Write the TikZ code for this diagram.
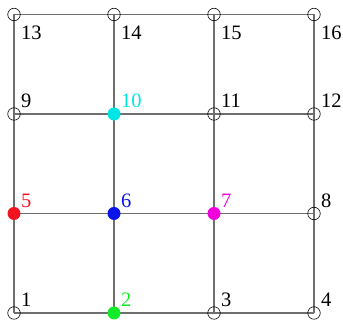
\documentclass[tikz,border=0pt]{standalone}
\usepackage{fontspec}
\setmainfont{Liberation Serif}
\definecolor{gridgray}{RGB}{110,110,110}
\definecolor{mygreen}{RGB}{20,235,40}
\definecolor{mycyan}{RGB}{0,230,230}
\definecolor{myred}{RGB}{240,20,30}
\definecolor{myblue}{RGB}{10,20,230}
\definecolor{mymag}{RGB}{240,0,220}
\tikzset{
  vtx/.style={circle,draw=black,line width=0.6pt,minimum size=12.5pt,inner sep=0pt},
  fvtx/.style={circle,fill=#1,draw=none,minimum size=13pt,inner sep=0pt},
  lbl/.style={anchor=base west,inner sep=0pt,font=\fontsize{20.5}{20.5}\selectfont},
  gline/.style={draw=gridgray,line width=1.2pt}
}
\begin{document}
\begin{tikzpicture}[x=1pt,y=1pt]
\useasboundingbox (0,0) rectangle (343,320);
% coordinates
\foreach \r in {0,1,2,3}{
  \foreach \c in {0,1,2,3}{
    \pgfmathtruncatemacro{\k}{4*\r+\c+1}
    \coordinate (p\k) at ({14+100*\c},{7+99.5*\r});
  }
}
% grid lines
\foreach \r in {0,1,2,3}{
  \pgfmathtruncatemacro{\a}{4*\r+1}
  \pgfmathtruncatemacro{\b}{4*\r+4}
  \draw[gline] (p\a) -- (p\b);
}
\foreach \c in {1,2,3,4}{
  \pgfmathtruncatemacro{\b}{12+\c}
  \draw[gline] (p\c) -- (p\b);
}
% open vertices
\foreach \k in {1,3,4,8,9,11,12,13,14,15,16}{
  \node[vtx] (n\k) at (p\k) {};
}
% filled vertices
\node[fvtx=mygreen] (n2) at (p2) {};
\node[fvtx=myred] (n5) at (p5) {};
\node[fvtx=myblue] (n6) at (p6) {};
\node[fvtx=mymag] (n7) at (p7) {};
\node[fvtx=mycyan] (n10) at (p10) {};
% labels (lower rows: above right)
\foreach \k/\col in {1/black,3/black,4/black,8/black,9/black,11/black,12/black,2/mygreen,5/myred,6/myblue,7/mymag,10/mycyan}{
  \node[lbl,text=\col] (l\k) at ([xshift=7pt,yshift=6pt]p\k) {\k};
}
% top row labels: below right
\foreach \k in {13,14,15,16}{
  \node[lbl] (l\k) at ([xshift=7pt,yshift=-25pt]p\k) {\k};
}
\end{tikzpicture}
\end{document}
